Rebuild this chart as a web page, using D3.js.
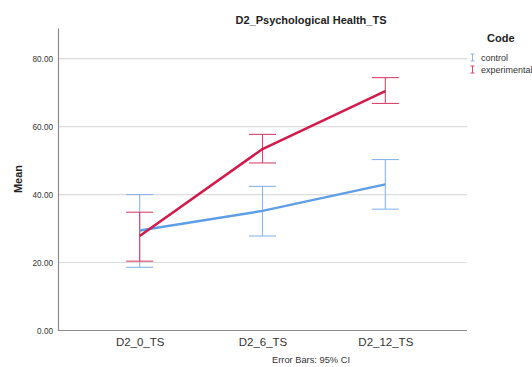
<!DOCTYPE html>
<html>
<head>
<meta charset="utf-8">
<script src="https://cdn.jsdelivr.net/npm/d3@7"></script>
<style>
  html, body { margin: 0; padding: 0; background: #fff; }
  svg { display: block; font-family: "Liberation Sans", Arial, sans-serif; }
</style>
</head>
<body>
<svg id="chart" width="532" height="367"></svg>
<script>
// Time points along the x axis
const categories = ["D2_0_TS", "D2_6_TS", "D2_12_TS"];
const groups = ["control", "experimental"];

// Means and 95% CI bounds per group
const controlMean  = [29.4, 35.2, 43.0];
const controlLow   = [18.6, 27.8, 35.7];
const controlHigh  = [40.0, 42.4, 50.3];
const expMean      = [27.8, 53.4, 70.4];
const expLow       = [20.4, 49.3, 66.8];
const expHigh      = [34.8, 57.7, 74.4];

const yTicks = [0, 20, 40, 60, 80];

const colors = { control: "#5e9ee6", experimental: "#d31a4b" };
const barColors = { control: "#88b6e8", experimental: "#d9456c" };

const series = [
  { key: "control", mean: controlMean, low: controlLow, high: controlHigh },
  { key: "experimental", mean: expMean, low: expLow, high: expHigh }
];

const svg = d3.select("#chart");
const plotLeft = 58, plotRight = 467, plotTop = 28, plotBottom = 330.5;

const x = d3.scalePoint().domain(categories).range([plotLeft, plotRight]).padding(0.665);
const y = d3.scaleLinear().domain([0, 89]).range([plotBottom, plotTop]);

// Horizontal gridlines
svg.append("g")
  .selectAll("line")
  .data(yTicks.filter(d => d > 0))
  .join("line")
  .attr("x1", plotLeft).attr("x2", plotRight)
  .attr("y1", d => y(d)).attr("y2", d => y(d))
  .attr("stroke", "#dcdcdc").attr("stroke-width", 1.2);

// Y axis
const yAxis = svg.append("g")
  .attr("transform", `translate(${plotLeft},0)`)
  .call(d3.axisLeft(y).tickValues(yTicks).tickSize(0).tickPadding(5).tickFormat(d3.format(".2f")));
yAxis.select(".domain").attr("stroke", "#8c8c8c").attr("stroke-width", 1.2);
yAxis.selectAll("text").attr("font-size", 8.2).attr("fill", "#333");

// X axis
const xAxis = svg.append("g")
  .attr("transform", `translate(0,${plotBottom})`)
  .call(d3.axisBottom(x).tickSize(0).tickPadding(7));
xAxis.select(".domain").attr("d", `M${plotLeft},0H${plotRight}`).attr("stroke", "#8c8c8c").attr("stroke-width", 1.2);
xAxis.selectAll("text").attr("font-size", 11.5).attr("fill", "#333");

const cap = 13.5;

// Error bars
series.forEach(s => {
  const g = svg.append("g").attr("stroke", barColors[s.key]).attr("stroke-width", 1.1).attr("fill", "none");
  categories.forEach((c, i) => {
    const cx = x(c);
    g.append("line").attr("x1", cx).attr("x2", cx).attr("y1", y(s.low[i])).attr("y2", y(s.high[i]));
    g.append("line").attr("x1", cx - cap).attr("x2", cx + cap).attr("y1", y(s.low[i])).attr("y2", y(s.low[i]));
    g.append("line").attr("x1", cx - cap).attr("x2", cx + cap).attr("y1", y(s.high[i])).attr("y2", y(s.high[i]));
  });
});

// Mean lines
const line = d3.line().x((d, i) => x(categories[i])).y(d => y(d));
series.forEach(s => {
  svg.append("path")
    .datum(s.mean)
    .attr("d", line)
    .attr("fill", "none")
    .attr("stroke", colors[s.key])
    .attr("stroke-width", 2.5);
});

// Title
svg.append("text")
  .attr("x", 311).attr("y", 24)
  .attr("text-anchor", "middle")
  .attr("font-size", 11).attr("font-weight", "bold").attr("fill", "#222")
  .text("D2_Psychological Health_TS");

// Y label
svg.append("text")
  .attr("transform", `translate(22,179) rotate(-90)`)
  .attr("text-anchor", "middle")
  .attr("font-size", 11).attr("font-weight", "bold").attr("fill", "#222")
  .text("Mean");

// Footnote
svg.append("text")
  .attr("x", 272).attr("y", 363)
  .attr("font-size", 9.3).attr("fill", "#333")
  .text("Error Bars: 95% CI");

// Legend
svg.append("text")
  .attr("x", 487).attr("y", 42)
  .attr("font-size", 11).attr("font-weight", "bold").attr("fill", "#222")
  .text("Code");

const leg = svg.append("g");
groups.forEach((gname, i) => {
  const ly = 57.5 + i * 12;
  const lx = 472.5;
  const gi = leg.append("g").attr("stroke", barColors[gname]).attr("stroke-width", 1);
  gi.append("line").attr("x1", lx).attr("x2", lx).attr("y1", ly - 3.5).attr("y2", ly + 3.5);
  gi.append("line").attr("x1", lx - 2).attr("x2", lx + 2).attr("y1", ly - 3.5).attr("y2", ly - 3.5);
  gi.append("line").attr("x1", lx - 2).attr("x2", lx + 2).attr("y1", ly + 3.5).attr("y2", ly + 3.5);
  leg.append("text")
    .attr("x", 481).attr("y", ly + 3.3)
    .attr("font-size", 9).attr("fill", "#333")
    .text(gname);
});
</script>
</body>
</html>
